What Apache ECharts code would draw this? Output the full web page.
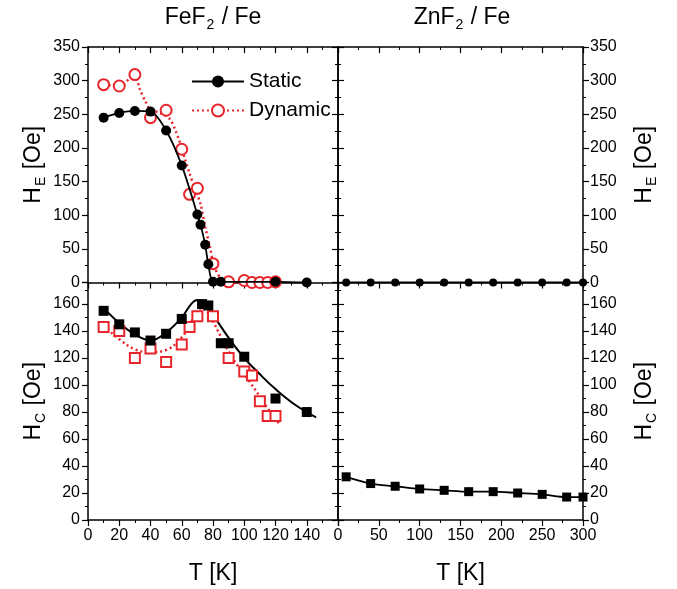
<!DOCTYPE html>
<html>
<head>
<meta charset="utf-8">
<script src="https://cdn.jsdelivr.net/npm/echarts@6/dist/echarts.min.js"></script>
<style>
html, body { margin: 0; padding: 0; background: #fff; }
#chart { width: 677px; height: 589px; }
</style>
</head>
<body>
<div id="chart"></div>
<script>
// ---- FeF2 / Fe : exchange field H_E ----
const fef_T_static = [10, 20, 30, 40, 50, 60, 70, 72, 75, 77, 80, 85, 120, 140]
const fef_HE_static = [245, 252, 255, 254, 226, 174, 101, 86, 56, 27, 1, 1, 1, 0]
const fef_T_dynamic = [10, 20, 30, 40, 50, 60, 65, 70, 80, 90, 100, 105, 110, 115, 120]
const fef_HE_dynamic = [294, 292, 309, 245, 256, 198, 131, 140, 28, 1, 3, 0, 0, 0, 1]
// dotted guide drawn through the dynamic H_E points
const fef_T_dynamic_fit = [10, 20, 30, 33, 37, 40, 45, 52, 56, 59, 62, 65, 68, 72, 75, 78, 81, 86, 91, 100, 120]
const fef_HE_dynamic_fit = [294, 292, 309, 288, 268, 256, 253, 244, 226, 207, 184, 162, 142, 117, 83, 53, 23, 3, 0, 0, 0]

// ---- FeF2 / Fe : coercive field H_C ----
const fef_T_hc_static = [10, 20, 30, 40, 50, 60, 73, 77, 85, 90, 100, 120, 140]
const fef_HC_static = [155, 145, 139, 133, 138, 149, 160, 159, 131, 131, 121, 90, 80]
const fef_T_hc_dynamic = [10, 20, 30, 40, 50, 60, 65, 70, 80, 90, 100, 105, 110, 115, 120]
const fef_HC_dynamic = [143, 140, 120, 127, 117, 130, 143, 151, 151, 120, 110, 107, 88, 77, 77]
// guide curves
const fef_T_hc_static_fit = [10, 20, 30, 40, 50, 60, 66, 70, 74, 80, 90, 100, 110, 120, 133, 146]
const fef_HC_static_fit = [157, 146, 137.5, 133, 139, 150, 160, 163, 161, 152, 135, 120, 108, 97, 85, 76]
const fef_T_hc_dynamic_fit = [10, 20, 30, 40, 50, 59, 65, 69, 73, 78, 85, 93, 101, 110, 117, 123]
const fef_HC_dynamic_fit = [144, 134, 126.5, 124.5, 126, 134, 144, 154, 157, 151, 136, 119, 106.5, 91.5, 79.5, 70.5]

// ---- ZnF2 / Fe ----
const znf_T = [10, 40, 70, 100, 130, 160, 190, 220, 250, 280, 300]
const znf_HE = [0, 0, 0, 0, 0, 0, 0, 0, 0, 0, 0]
const znf_HC = [32, 27, 25, 23, 22, 21, 21, 20, 19, 17, 17]

const FONT = '"Liberation Sans", Arial, Helvetica, sans-serif'
const RED = '#e8252b'
const BLACK = '#000'
const DOTS = [2, 3]

function pairs(xs, ys) {
    return xs.map((x, i) => [x, ys[i]])
}

const nameRich = {
    b: { fontSize: 23, fontFamily: FONT, color: BLACK },
    s: { fontSize: 14, fontFamily: FONT, color: BLACK, padding: [14, 1, 0, 1] }
}

// one axis, all the shared styling in one place
function axis(type, grid, pos, min, max, interval, opt = {}) {
    let a = {
        type: 'value',
        gridIndex: grid,
        position: pos,
        min: min,
        max: max,
        interval: interval,
        splitLine: { show: false },
        axisLine: { show: true, onZero: false, lineStyle: { color: BLACK, width: 1.5 } },
        axisTick: { show: true, inside: !!opt.inside, length: 6, lineStyle: { color: BLACK, width: 1.2 } },
        minorTick: { show: true, splitNumber: 2, length: 3, lineStyle: { color: BLACK, width: 1 } },
        axisLabel: {
            show: !!opt.labels,
            fontSize: 16,
            fontFamily: FONT,
            color: BLACK,
            margin: opt.margin || 8,
            showMaxLabel: opt.showMax !== false,
            showMinLabel: true,
            hideOverlap: false
        }
    }
    if (opt.inside) a.minorTick.inside = true
    if (opt.name) {
        a.name = opt.name
        a.nameLocation = 'middle'
        a.nameGap = opt.nameGap
        if (type == 'y') a.nameRotate = 90
        a.nameTextStyle = { fontSize: 23, fontFamily: FONT, color: BLACK, rich: nameRich }
    }
    return a
}

const G_TOP = 47, G_MID = 282.5, G_BOT = 520
const X_L = 88, X_M = 338, X_R = 583

let option = {
    backgroundColor: '#fff',
    animation: false,
    grid: [
        { left: X_L, top: G_TOP, width: X_M - X_L, height: G_MID - G_TOP, outerBoundsMode: 'none' },
        { left: X_L, top: G_MID, width: X_M - X_L, height: G_BOT - G_MID, outerBoundsMode: 'none' },
        { left: X_M, top: G_TOP, width: X_R - X_M, height: G_MID - G_TOP, outerBoundsMode: 'none' },
        { left: X_M, top: G_MID, width: X_R - X_M, height: G_BOT - G_MID, outerBoundsMode: 'none' }
    ],
    xAxis: [
        axis('x', 0, 'bottom', 0, 160, 20),                     // 0
        axis('x', 0, 'top', 0, 160, 20, { inside: true }),      // 1
        axis('x', 1, 'bottom', 0, 160, 20, { labels: true, showMax: false, name: 'T [K]', nameGap: 42 }), // 2
        axis('x', 2, 'bottom', 0, 300, 50),                     // 3
        axis('x', 2, 'top', 0, 300, 50, { inside: true }),      // 4
        axis('x', 3, 'bottom', 0, 300, 50, { labels: true, name: 'T [K]', nameGap: 42 })  // 5
    ],
    yAxis: [
        axis('y', 0, 'left', 0, 350, 50, { labels: true, name: '{b|H}{s|E}{b| [Oe]}', nameGap: 40 }), // 0
        axis('y', 0, 'right', 0, 350, 50, { inside: true }),   // 1
        axis('y', 1, 'left', 0, 176, 20, { labels: true, showMax: false, name: '{b|H}{s|C}{b| [Oe]}', nameGap: 40 }), // 2
        axis('y', 1, 'right', 0, 176, 20, { inside: true }),   // 3
        axis('y', 2, 'left', 0, 350, 50, { inside: true }),    // 4
        axis('y', 2, 'right', 0, 350, 50, { labels: true, margin: 7, name: '{b|H}{s|E}{b| [Oe]}', nameGap: 48 }), // 5
        axis('y', 3, 'left', 0, 176, 20, { inside: true }),    // 6
        axis('y', 3, 'right', 0, 176, 20, { labels: true, margin: 7, showMax: false, name: '{b|H}{s|C}{b| [Oe]}', nameGap: 48 }) // 7
    ],
    legend: {
        data: ['Static', 'Dynamic'],
        orient: 'vertical',
        left: 186,
        top: 66,
        itemWidth: 52,
        itemHeight: 15,
        itemGap: 8,
        selectedMode: false,
        textStyle: { fontSize: 21, fontFamily: FONT, color: BLACK }
    },
    graphic: [
        {
            type: 'text', x: 213, y: 18,
            style: {
                text: '{b|FeF}{s|2}{b| / Fe}', align: 'center', verticalAlign: 'middle',
                rich: nameRich
            }
        },
        {
            type: 'text', x: 462, y: 18,
            style: {
                text: '{b|ZnF}{s|2}{b| / Fe}', align: 'center', verticalAlign: 'middle',
                rich: nameRich
            }
        }
    ],
    series: [
        {
            name: 'Static',
            type: 'line',
            xAxisIndex: 0, yAxisIndex: 0,
            data: pairs(fef_T_static, fef_HE_static),
            smooth: 0.3,
            symbol: 'circle', symbolSize: 10,
            lineStyle: { color: BLACK, width: 1.8 },
            itemStyle: { color: BLACK, opacity: 1 },
            z: 4
        },
        {
            name: 'Dynamic',
            type: 'line',
            xAxisIndex: 0, yAxisIndex: 0,
            data: pairs(fef_T_dynamic_fit, fef_HE_dynamic_fit),
            smooth: 0.3,
            symbol: 'emptyCircle', symbolSize: 11, showSymbol: false,
            lineStyle: { color: RED, width: 2.5, type: DOTS },
            itemStyle: { color: RED, borderWidth: 1.3 },
            z: 3
        },
        {
            name: 'Dynamic points',
            type: 'scatter',
            xAxisIndex: 0, yAxisIndex: 0,
            data: pairs(fef_T_dynamic, fef_HE_dynamic),
            symbol: 'emptyCircle', symbolSize: 11,
            itemStyle: { color: RED, borderWidth: 1.3, opacity: 1 },
            z: 3
        },
        {
            name: 'Static HC fit',
            type: 'line',
            xAxisIndex: 2, yAxisIndex: 2,
            data: pairs(fef_T_hc_static_fit, fef_HC_static_fit),
            smooth: 0.4, showSymbol: false, symbol: 'none',
            lineStyle: { color: BLACK, width: 2 },
            z: 3
        },
        {
            name: 'Dynamic HC fit',
            type: 'line',
            xAxisIndex: 2, yAxisIndex: 2,
            data: pairs(fef_T_hc_dynamic_fit, fef_HC_dynamic_fit),
            smooth: 0.4, showSymbol: false, symbol: 'none',
            lineStyle: { color: RED, width: 2.5, type: DOTS },
            z: 3
        },
        {
            name: 'Dynamic HC',
            type: 'scatter',
            xAxisIndex: 2, yAxisIndex: 2,
            data: pairs(fef_T_hc_dynamic, fef_HC_dynamic),
            symbol: 'emptyRect', symbolSize: 10,
            itemStyle: { color: RED, borderWidth: 1.3, opacity: 1 },
            z: 4
        },
        {
            name: 'Static HC',
            type: 'scatter',
            xAxisIndex: 2, yAxisIndex: 2,
            data: pairs(fef_T_hc_static, fef_HC_static),
            symbol: 'rect', symbolSize: 10,
            itemStyle: { color: BLACK, opacity: 1 },
            z: 5
        },
        {
            name: 'ZnF2 HE',
            type: 'line',
            xAxisIndex: 3, yAxisIndex: 5,
            data: pairs(znf_T, znf_HE),
            symbol: 'circle', symbolSize: 8,
            lineStyle: { color: BLACK, width: 1.8 },
            itemStyle: { color: BLACK, opacity: 1 },
            z: 4
        },
        {
            name: 'ZnF2 HC',
            type: 'line',
            xAxisIndex: 5, yAxisIndex: 7,
            data: pairs(znf_T, znf_HC),
            smooth: 0.3,
            symbol: 'rect', symbolSize: 9,
            lineStyle: { color: BLACK, width: 1.8 },
            itemStyle: { color: BLACK, opacity: 1 },
            z: 4
        }
    ]
}

let chart = echarts.init(document.getElementById('chart'))
chart.setOption(option)
</script>
</body>
</html>
